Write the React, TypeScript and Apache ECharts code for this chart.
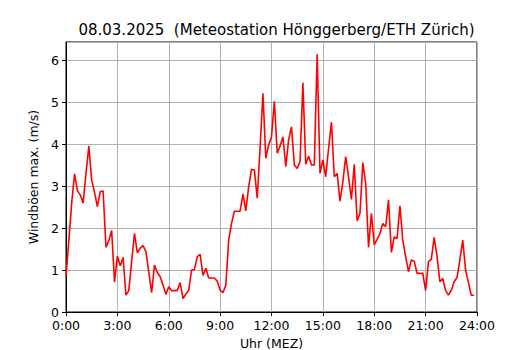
import React, { useEffect, useRef } from "react";
import * as echarts from "echarts";

const TITLE = "08.03.2025  (Meteostation Hönggerberg/ETH Zürich)";
const X_LABEL = "Uhr (MEZ)";
const Y_LABEL = "Windböen max. (m/s)";
const STEP_HOURS = 1 / 6; // 10-minute readings

const gustValues: number[] = [
  0.85, 1.7, 2.6, 3.29, 2.89, 2.79, 2.59, 3.3, 3.95, 3.14,
  2.85, 2.51, 2.87, 2.88, 1.54, 1.7, 1.94, 0.71, 1.33, 1.1,
  1.3, 0.4, 0.51, 1.2, 1.87, 1.41, 1.52, 1.58, 1.44, 0.95,
  0.46, 1.12, 0.94, 0.84, 0.64, 0.42, 0.6, 0.51, 0.51, 0.51,
  0.7, 0.32, 0.43, 0.52, 1.0, 1.01, 1.32, 1.37, 0.87, 1.04,
  0.81, 0.81, 0.81, 0.73, 0.52, 0.46, 0.64, 1.71, 2.11, 2.4,
  2.4, 2.4, 2.81, 2.41, 2.98, 3.4, 3.38, 2.71, 3.9, 5.21,
  3.66, 3.98, 4.17, 5.02, 3.78, 3.95, 4.17, 3.46, 4.1, 4.41,
  3.5, 3.42, 3.58, 5.46, 3.52, 3.71, 3.5, 3.5, 6.14, 3.3,
  3.62, 3.22, 3.9, 4.52, 3.22, 3.3, 2.64, 3.1, 3.7, 3.22,
  2.68, 3.52, 2.17, 2.35, 3.56, 3.06, 1.54, 2.35, 1.6, 1.73,
  1.87, 2.11, 2.03, 2.67, 1.42, 1.79, 1.75, 2.53, 1.71, 1.32,
  0.96, 1.24, 1.21, 0.92, 0.92, 0.92, 0.51, 1.2, 1.26, 1.78,
  1.32, 0.72, 0.8, 0.51, 0.4, 0.52, 0.72, 0.82, 1.24, 1.71,
  1.0, 0.7, 0.4, 0.4,
];

const FONT = "DejaVu Sans";

export default function App() {
  const ref = useRef<HTMLDivElement>(null);
  useEffect(() => {
    if (!ref.current) return;
    const chart = echarts.init(ref.current, undefined, { renderer: "svg" });
    const data = gustValues.map((v, i) => [i * STEP_HOURS, v]);
    chart.setOption({
      animation: false,
      backgroundColor: "#ffffff",
      title: {
        text: TITLE,
        left: 271.5,
        textAlign: "center",
        top: 17,
        textStyle: { fontFamily: FONT, fontSize: 15, fontWeight: "normal", color: "#000" },
      },
      grid: {
        left: 66,
        right: 53,
        top: 42,
        bottom: 38,
        show: true,
        borderColor: "#000",
        borderWidth: 1,
        backgroundColor: "transparent",
        outerBoundsMode: "none",
        containLabel: false,
      },
      xAxis: {
        type: "value",
        min: 0,
        max: 24,
        interval: 3,
        name: X_LABEL,
        nameLocation: "middle",
        nameGap: 24,
        nameTextStyle: { fontFamily: FONT, fontSize: 12.5, color: "#000", lineHeight: 14 },
        axisLine: { show: true, lineStyle: { color: "#000", width: 1 } },
        axisTick: { show: true, length: 4, lineStyle: { color: "#000" } },
        axisLabel: {
          fontFamily: FONT,
          fontSize: 12.5,
          color: "#000",
          margin: 7,
          lineHeight: 13,
          formatter: (v: number) => `${v}:00`,
        },
        splitLine: { show: true, lineStyle: { color: "#b0b0b0", width: 1 } },
      },
      yAxis: {
        type: "value",
        min: 0,
        max: 6.43,
        interval: 1,
        name: Y_LABEL,
        nameLocation: "middle",
        nameGap: 24,
        nameRotate: 90,
        nameTextStyle: { fontFamily: FONT, fontSize: 12.5, color: "#000" },
        axisLine: { show: true, lineStyle: { color: "#000", width: 1 } },
        axisTick: { show: true, length: 4, lineStyle: { color: "#000" } },
        axisLabel: {
          fontFamily: FONT,
          fontSize: 12.5,
          color: "#000",
          margin: 7,
          lineHeight: 11,
          showMaxLabel: false,
        },
        splitLine: { show: true, lineStyle: { color: "#b0b0b0", width: 1 } },
      },
      series: [
        {
          type: "line",
          data,
          showSymbol: false,
          lineStyle: { color: "#ff0000", width: 1.6 },
          itemStyle: { color: "#ff0000" },
        },
      ],
    });
    return () => chart.dispose();
  }, []);
  return (
    <div
      ref={ref}
      style={{ position: "fixed", left: 0, top: 0, width: 530, height: 350 }}
    />
  );
}
